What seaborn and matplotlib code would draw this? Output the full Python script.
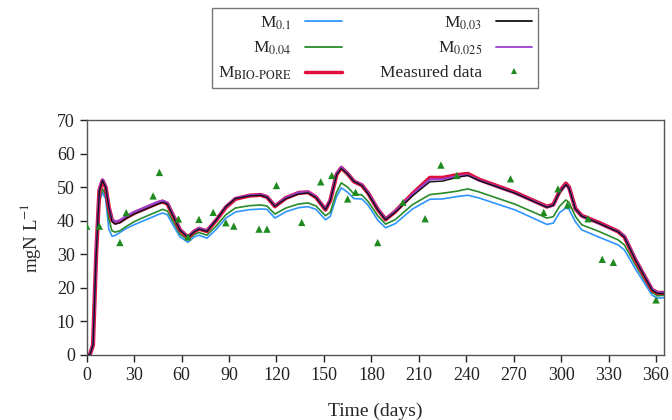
import matplotlib
matplotlib.use("Agg")
import matplotlib.pyplot as plt
import seaborn as sns
import pandas as pd
from matplotlib.lines import Line2D

days = [0, 2, 4, 6, 8, 10, 12, 14, 16, 18,
        21, 25, 30, 35, 40, 45, 48, 51, 55, 59,
        64, 68, 71, 76, 82, 88, 94, 103, 110, 114,
        119, 126, 134, 140, 145, 151, 154, 158, 161, 165,
        169, 174, 178, 184, 189, 195, 206, 217, 225, 234,
        241, 248, 271, 291, 295, 299, 303, 305, 309, 313,
        324, 336, 340, 347, 357.5, 361, 365]

m_bio_pore = [0, 0, 3, 30, 49, 52, 50, 44, 40.2, 39.4,
              39.8, 41, 42.3, 43.3, 44.3, 45.3, 45.7, 45.1, 41.2, 37.3,
              35, 36.8, 37.6, 36.9, 40.2, 44.0, 46.5, 47.5, 47.7, 47.1,
              44.3, 46.8, 48.3, 48.5, 47.0, 43.3, 46.0, 53.8, 55.8, 54.0,
              51.7, 50.6, 48.2, 43.4, 40.4, 42.7, 48.0, 52.8, 52.8, 53.6,
              54.0, 52.3, 48.4, 44.2, 44.8, 48.7, 51.1, 50.0, 43.6, 41.5,
              39.4, 36.8, 35.2, 28.3, 19.4, 18.5, 18.5]

m_003 = [0, 0, 3, 30, 49, 52, 50, 44, 39.8, 39.0,
         39.4, 40.7, 42.0, 43.0, 44.0, 45.0, 45.5, 45.0, 41.0, 37.2,
         35, 36.7, 37.5, 36.8, 40.3, 44.2, 46.6, 47.4, 47.6, 47.0,
         44.3, 46.6, 48.0, 48.3, 46.9, 43.3, 46.0, 53.7, 55.6, 53.9,
         51.7, 50.5, 48.0, 43.3, 40.3, 42.5, 47.4, 51.6, 51.8, 52.9,
         53.5, 52.0, 48.2, 44.0, 44.6, 48.5, 50.8, 49.7, 43.5, 41.4,
         39.2, 36.7, 35.1, 28.3, 19.3, 18.3, 18.3]

m_0025 = [0, 0, 3.2, 31, 49.5, 52.3, 50.3, 44.3, 40.4, 39.7,
          40.1, 41.3, 42.6, 43.6, 44.6, 45.6, 46.0, 45.4, 41.4, 37.4,
          35.1, 36.9, 37.8, 37.0, 40.4, 44.2, 46.7, 47.6, 47.8, 47.2,
          44.4, 46.9, 48.4, 48.6, 47.1, 43.4, 46.2, 54.0, 56.0, 54.1,
          51.8, 50.7, 48.3, 43.5, 40.5, 42.8, 47.8, 52.3, 52.4, 53.2,
          53.6, 52.1, 48.2, 44.1, 44.6, 48.5, 50.8, 49.8, 43.5, 41.4,
          39.2, 36.8, 35.4, 28.5, 19.6, 18.6, 18.6]

m_004 = [0, 0, 3, 29, 46.5, 49.5, 47.5, 40.5, 37.0, 36.6,
         37.0, 38.3, 39.7, 40.8, 41.8, 42.8, 43.4, 42.9, 39.5, 36.0,
         34.3, 35.9, 36.5, 35.7, 38.5, 41.8, 43.8, 44.5, 44.7, 44.4,
         42.0, 43.8, 45.0, 45.3, 44.4, 41.5, 42.5, 48.5, 51.3, 50.0,
         48.0, 47.7, 45.7, 41.5, 39.0, 40.3, 44.8, 47.8, 48.2, 48.8,
         49.5, 48.6, 44.9, 40.8, 41.2, 44.3, 46.2, 45.5, 41.3, 38.8,
         36.8, 34.3, 32.8, 26.8, 18.6, 17.6, 17.8]

m_01 = [0, 0, 3, 28, 45.5, 48.4, 46.5, 37.5, 35.4, 35.6,
        36.5, 37.7, 38.8, 39.8, 40.8, 41.8, 42.3, 41.8, 38.4, 35.2,
        33.6, 35.2, 35.7, 34.8, 37.5, 40.8, 42.6, 43.3, 43.5, 43.4,
        40.8, 42.7, 43.9, 44.2, 43.4, 40.3, 41.3, 47.2, 49.8, 48.5,
        46.6, 46.5, 44.6, 40.2, 37.9, 39.1, 43.5, 46.4, 46.5, 47.2,
        47.6, 46.8, 43.2, 38.9, 39.3, 42.4, 43.8, 43.4, 39.7, 37.3,
        35.1, 32.8, 31.3, 25.6, 17.8, 16.9, 17.1]

meas_days = [0, 8, 21, 25, 42, 46, 58, 64, 71, 80, 88, 93, 109, 114, 120, 136,
             148, 155, 165, 170, 184, 200, 214, 224, 234, 268, 289, 298, 304,
             317, 326, 333, 360]
meas_vals = [38.4, 38.4, 33.5, 42.4, 47.4, 54.4, 40.5, 35.2, 40.4, 42.5, 39.4,
             38.4, 37.5, 37.5, 50.5, 39.5, 51.6, 53.5, 46.5, 48.5, 33.5, 45.5,
             40.6, 56.6, 53.5, 52.5, 42.5, 49.5, 44.7, 40.6, 28.5, 27.6, 16.4]

x_ticks = list(range(0, 361, 30))
y_ticks = list(range(0, 71, 10))

sns.set_theme(style="white")
plt.rcParams["font.family"] = ["Liberation Serif", "DejaVu Serif"]
plt.rcParams["mathtext.fontset"] = "stix"

C_BLUE = "#2f95ff"
C_GREEN = "#2a8a2a"
C_BLACK = "#111111"
C_PURPLE = "#9a3fd0"
C_RED = "#e0103c"
C_MEAS = "#1f8a1f"

fig = plt.figure(figsize=(6.72, 4.2), dpi=100)
ax = fig.add_axes([0.129, 0.155, 0.859, 0.559])

df = pd.DataFrame({"day": days, "b": m_01, "g": m_004, "r": m_bio_pore,
                   "k": m_003, "p": m_0025})
sns.lineplot(data=df, x="day", y="b", ax=ax, color=C_BLUE, lw=1.2)
sns.lineplot(data=df, x="day", y="g", ax=ax, color=C_GREEN, lw=1.2)
sns.lineplot(data=df, x="day", y="r", ax=ax, color=C_RED, lw=3.0)
sns.lineplot(data=df, x="day", y="p", ax=ax, color=C_PURPLE, lw=1.6)
sns.lineplot(data=df, x="day", y="k", ax=ax, color=C_BLACK, lw=1.0)
dm = pd.DataFrame({"day": meas_days, "v": meas_vals})
sns.scatterplot(data=dm, x="day", y="v", ax=ax, marker="^", s=28,
                color=C_MEAS, edgecolor="none", zorder=5)

ax.set_xlim(0, 365)
ax.set_ylim(0, 70)
ax.set_xticks(x_ticks)
ax.set_yticks(y_ticks)
ax.tick_params(axis="both", direction="out", length=5, width=1,
               colors="#222222", labelsize=13, left=True, bottom=True)
for s in ax.spines.values():
    s.set_visible(True)
    s.set_color("#555555")
    s.set_linewidth(1.0)
ax.set_xlabel("Time (days)", fontsize=14, labelpad=14)
ax.set_ylabel("mgN L$^{-1}$", fontsize=13.5, labelpad=10)

handles = [
    Line2D([], [], color=C_BLUE, lw=1.3),
    Line2D([], [], color=C_GREEN, lw=1.3),
    Line2D([], [], color=C_RED, lw=2.5),
    Line2D([], [], color=C_BLACK, lw=1.3),
    Line2D([], [], color=C_PURPLE, lw=1.3),
    Line2D([], [], color=C_MEAS, lw=0, marker="^", ms=4.5, markeredgewidth=0),
]
labels = ["M$_{0.1}$", "M$_{0.04}$", "M$_{\\mathrm{BIO\\text{-}PORE}}$",
          "M$_{0.03}$", "M$_{0.025}$", "Measured data"]
leg = fig.legend(handles, labels, ncol=2, markerfirst=False,
                 loc="upper center", bbox_to_anchor=(0.558, 0.98),
                 borderaxespad=0.0,
                 fontsize=12.5, frameon=True, fancybox=False,
                 edgecolor="#555555", handlelength=2.1, handletextpad=0.8,
                 columnspacing=2.2, labelspacing=0.45, borderpad=0.35)
leg.get_frame().set_linewidth(1.0)

fig.savefig("out.png", dpi=100)
